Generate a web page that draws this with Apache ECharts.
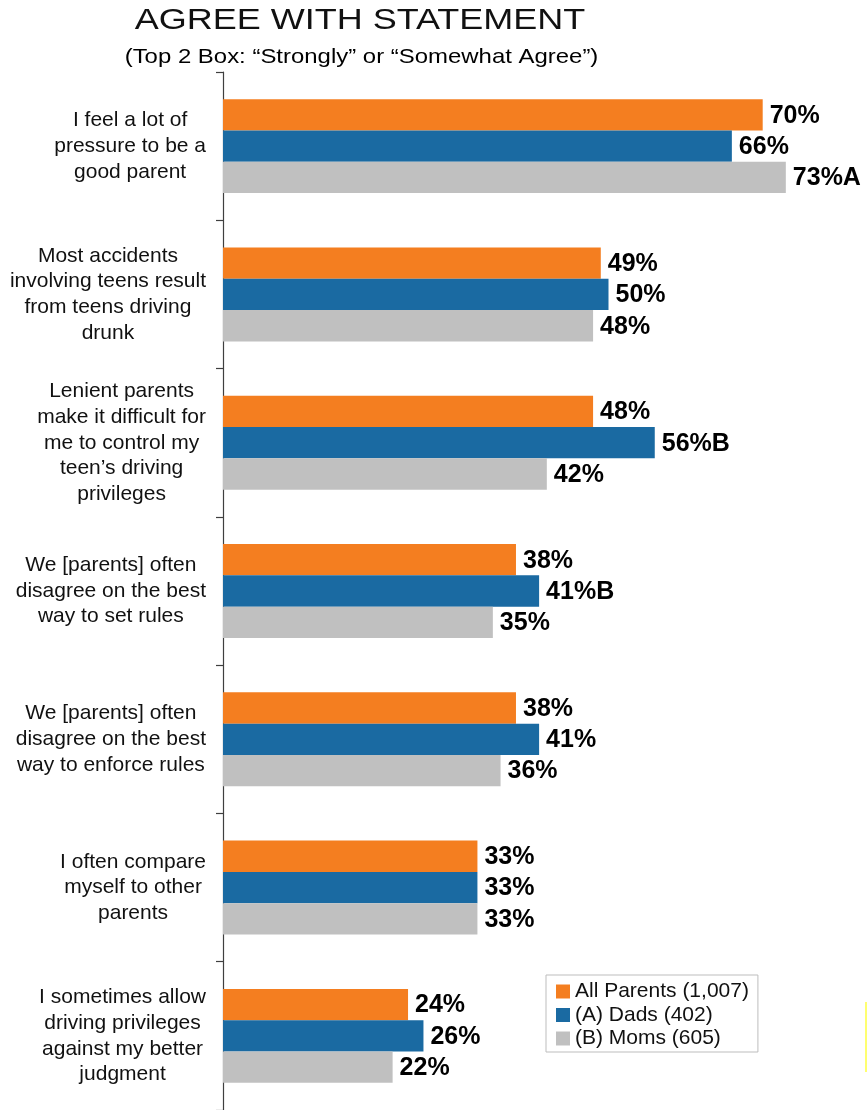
<!DOCTYPE html>
<html>
<head>
<meta charset="utf-8">
<style>
  html, body { margin: 0; padding: 0; background: #ffffff; }
  #chart { width: 867px; height: 1110px; }
</style>
<script src="https://cdn.jsdelivr.net/npm/echarts@6/dist/echarts.min.js"></script>
</head>
<body>
<div id="chart"></div>
<script>
// Survey statements, listed top to bottom
const categories = [
  'I feel a lot of\npressure to be a\ngood parent',
  'Most accidents\ninvolving teens result\nfrom teens driving\ndrunk',
  'Lenient parents\nmake it difficult for\nme to control my\nteen\u2019s driving\nprivileges',
  'We [parents] often\ndisagree on the best\nway to set rules',
  'We [parents] often\ndisagree on the best\nway to enforce rules',
  'I often compare\nmyself to other\nparents',
  'I sometimes allow\ndriving privileges\nagainst my better\njudgment'
];

const seriesNames = ['All Parents (1,007)', '(A) Dads (402)', '(B) Moms (605)'];

// Percent agreeing (Top 2 Box)
const allParents = [70, 49, 48, 38, 38, 33, 24];
const dads       = [66, 50, 56, 41, 41, 33, 26];
const moms       = [73, 48, 42, 35, 36, 33, 22];

// Significance markers appended to the value labels
const allSig  = ['', '', '', '', '', '', ''];
const dadsSig = ['', '', 'B', 'B', '', '', ''];
const momsSig = ['A', '', '', '', '', '', ''];

const colors = ['#F47E20', '#1A6AA2', '#C0C0C0'];
const FONT = "'Liberation Sans', Arial, Helvetica, sans-serif";

const chart = echarts.init(document.getElementById('chart'), null, { renderer: 'canvas' });

function makeSeries(name, values, sig, color) {
  return {
    name: name,
    type: 'bar',
    data: values,
    barWidth: 31.3,
    barGap: '0%',
    itemStyle: { color: color },
    label: {
      show: true,
      position: 'right',
      distance: 7,
      offset: [0, 1],
      fontFamily: FONT,
      fontSize: 25,
      fontWeight: 'bold',
      color: '#000000',
      formatter: p => p.value + '%' + sig[p.dataIndex]
    }
  };
}

const option = {
  animation: false,
  backgroundColor: '#ffffff',
  textStyle: { fontFamily: FONT },
  graphic: [
    {
      type: 'text',
      x: 360, y: 21,
      scaleX: 1.2,
      style: {
        text: 'AGREE WITH STATEMENT',
        font: "30px 'Liberation Sans', Arial, sans-serif",
        fill: '#111111',
        textAlign: 'center',
        textVerticalAlign: 'middle'
      }
    },
    {
      type: 'text',
      x: 361.5, y: 57,
      scaleX: 1.14,
      style: {
        text: '(Top 2 Box: \u201cStrongly\u201d or \u201cSomewhat Agree\u201d)',
        font: "21px 'Liberation Sans', Arial, sans-serif",
        fill: '#000000',
        textAlign: 'center',
        textVerticalAlign: 'middle'
      }
    },
    {
      type: 'line',
      shape: { x1: 866, y1: 1002, x2: 866, y2: 1072 },
      style: { stroke: '#ffff70', lineWidth: 2 }
    }
  ],
  legend: {
    orient: 'vertical',
    left: 546,
    top: 975,
    padding: [6, 9, 3, 10],
    itemWidth: 14,
    itemHeight: 14,
    itemGap: 2.5,
    icon: 'rect',
    borderColor: '#bdbdbd',
    borderWidth: 1,
    backgroundColor: '#ffffff',
    data: seriesNames,
    textStyle: { fontFamily: FONT, fontSize: 21, lineHeight: 20, color: '#111111' }
  },
  grid: {
    left: 223,
    top: 72,
    width: 616.8,
    height: 1044.4,
    containLabel: false
  },
  xAxis: {
    type: 'value',
    min: 0,
    max: 80,
    show: false
  },
  yAxis: {
    type: 'category',
    inverse: true,
    data: categories,
    axisLine: { show: true, lineStyle: { color: '#3f3f3f', width: 1.2 } },
    axisTick: { show: true, length: 7, lineStyle: { color: '#3f3f3f', width: 1.2 } },
    axisLabel: {
      margin: 17,
      align: 'right',
      formatter: v => v.split('\n').map(l => '{c|' + l + '}').join('\n'),
      rich: {
        c: { align: 'center', fontFamily: FONT, fontSize: 21, lineHeight: 25.7, color: '#111111' }
      }
    }
  },
  series: [
    makeSeries(seriesNames[0], allParents, allSig, colors[0]),
    makeSeries(seriesNames[1], dads, dadsSig, colors[1]),
    makeSeries(seriesNames[2], moms, momsSig, colors[2])
  ]
};

chart.setOption(option);
</script>
</body>
</html>
